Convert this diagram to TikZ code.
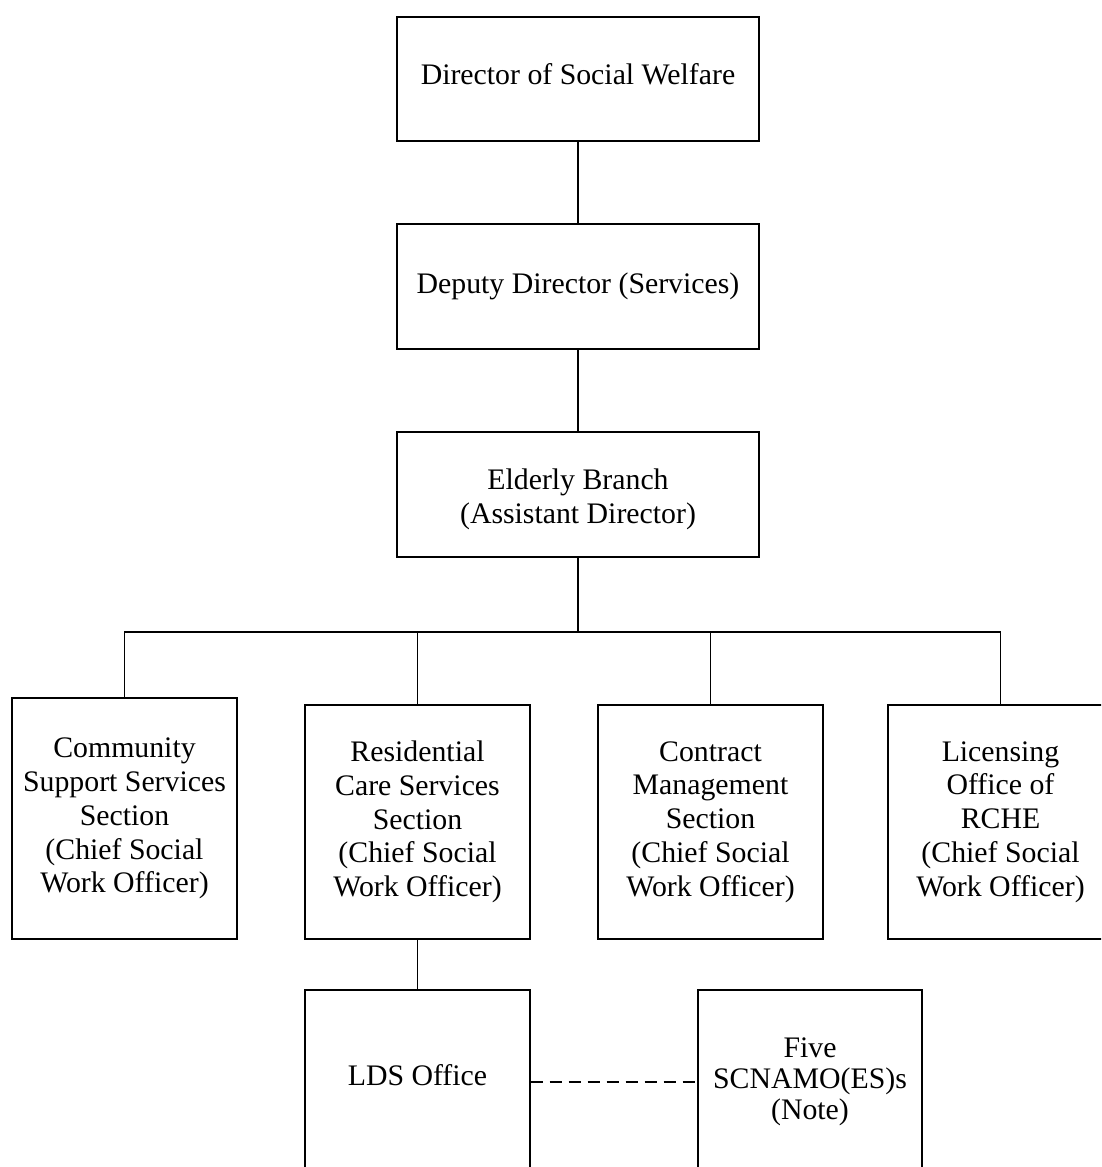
\documentclass[tikz,border=0pt]{standalone}
\usepackage{fontspec}
\setmainfont{Liberation Serif}
\begin{document}
\begin{tikzpicture}[x=1pt,y=-1pt,
  bx/.style={draw, line width=1.3pt, inner sep=0pt, align=center,
    font=\fontsize{29.8pt}{33.8pt}\selectfont},
  txt/.style={inner sep=0pt, align=center, font=\fontsize{29.8pt}{31pt}\selectfont},
  txtb/.style={inner sep=0pt, align=center, font=\fontsize{29.8pt}{34pt}\selectfont},
  conn/.style={line width=1.3pt},
  trunk/.style={line width=2pt},
  dashconn/.style={line width=1.3pt, dash pattern=on 12pt off 7pt}]
\useasboundingbox (0,0) rectangle (1101,1167);
\clip (0,0) rectangle (1101,1167);

\node[bx, minimum width=362pt, minimum height=124pt, text height=20pt, text depth=9pt] (dir) at (578,79) {Director of Social Welfare};
\node[bx, minimum width=362pt, minimum height=125pt] (dep) at (578,286.5) {Deputy Director (Services)};
\node[bx, minimum width=362pt, minimum height=125pt] (eld) at (578,494.5) {};
\node[txtb] (eldt) at (578,499) {Elderly Branch\\(Assistant Director)};

\node[bx, minimum width=225pt, minimum height=241pt] (com) at (124.5,818.5) {Community\\Support Services\\Section\\(Chief Social\\Work Officer)};
\node[bx, minimum width=225pt, minimum height=234pt] (res) at (417.5,822) {Residential\\Care Services\\Section\\(Chief Social\\Work Officer)};
\node[bx, minimum width=225pt, minimum height=234pt] (con) at (710.5,822) {Contract\\Management\\Section\\(Chief Social\\Work Officer)};
\node[bx, minimum width=225pt, minimum height=234pt] (lic) at (1000.5,822) {Licensing\\Office of\\RCHE\\(Chief Social\\Work Officer)};

\node[bx, minimum width=225pt, minimum height=234pt] (lds) at (417.5,1107) {};
\node[txt] (ldst) at (417.5,1075) {LDS Office};
\node[bx, minimum width=224pt, minimum height=234pt] (five) at (810,1107) {};
\node[txt] (fivet) at (810,1082) {Five\\SCNAMO(ES)s\\(Note)};

\coordinate (bus) at (578,632);
\draw[conn] (dir.south) -- (dep.north);
\draw[conn] (dep.south) -- (eld.north);
\draw[trunk] (eld.south) -- (bus);
\draw[conn] (com.north) -- (com.north |- bus) -- (lic.north |- bus) -- (lic.north);
\draw[conn] (res.north) -- (res.north |- bus);
\draw[conn] (con.north) -- (con.north |- bus);
\draw[conn] (res.south) -- (lds.north);
\draw[dashconn] ([yshift=25pt]lds.east) -- ([yshift=25pt]five.west);
\end{tikzpicture}
\end{document}
